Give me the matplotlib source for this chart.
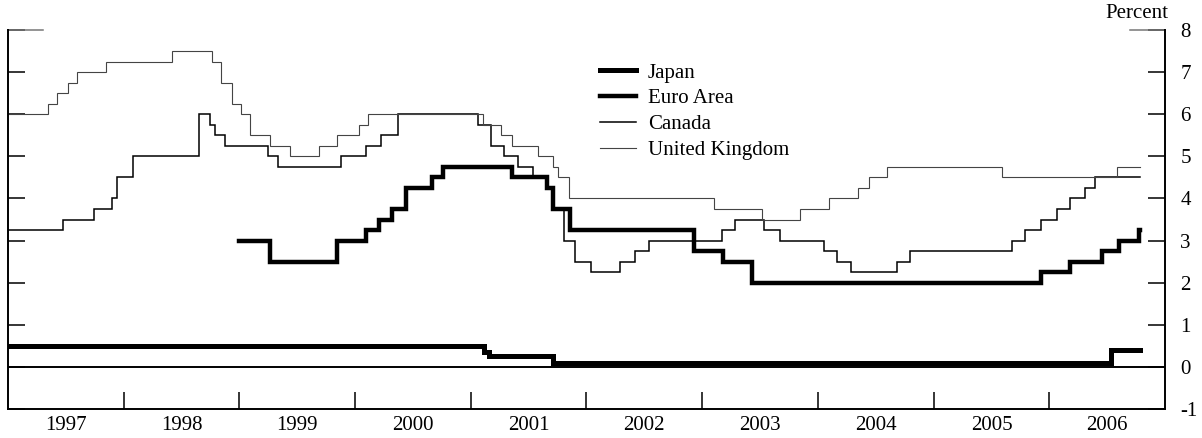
import numpy as np
import pandas as pd
import matplotlib

matplotlib.use('Agg')
import matplotlib.pyplot as plt

# policy rate changes (date the rate took effect, new rate in percent)
japan_dates = ['1997-01-01', '2001-02-13', '2001-03-01', '2001-09-19', '2006-07-14']
japan_rates = [0.50, 0.35, 0.25, 0.10, 0.40]

euro_dates = ['1999-01-01', '1999-04-09', '1999-11-05', '2000-02-04', '2000-03-17',
              '2000-04-28', '2000-06-09', '2000-09-01', '2000-10-06', '2001-05-11',
              '2001-08-31', '2001-09-18', '2001-11-09', '2002-12-06', '2003-03-07',
              '2003-06-06', '2005-12-06', '2006-03-08', '2006-06-15', '2006-08-09',
              '2006-10-11']
euro_rates = [3.0, 2.5, 3.0, 3.25, 3.5, 3.75, 4.25, 4.5, 4.75, 4.5, 4.25, 3.75, 3.25,
              2.75, 2.5, 2.0, 2.25, 2.5, 2.75, 3.0, 3.25]

canada_dates = ['1997-01-01', '1997-06-25', '1997-10-01', '1997-11-25', '1997-12-12',
                '1998-01-30', '1998-08-27', '1998-09-29', '1998-10-16', '1998-11-17',
                '1999-03-31', '1999-05-04', '1999-11-17', '2000-02-03', '2000-03-22',
                '2000-05-17', '2001-01-23', '2001-03-06', '2001-04-17', '2001-05-29',
                '2001-07-17', '2001-08-28', '2001-09-17', '2001-10-23', '2001-11-27',
                '2002-01-15', '2002-04-16', '2002-06-04', '2002-07-16', '2003-03-04',
                '2003-04-15', '2003-07-15', '2003-09-03', '2004-01-20', '2004-03-02',
                '2004-04-13', '2004-09-08', '2004-10-19', '2005-09-07', '2005-10-18',
                '2005-12-06', '2006-01-24', '2006-03-07', '2006-04-25', '2006-05-24']
canada_rates = [3.25, 3.5, 3.75, 4.0, 4.5, 5.0, 6.0, 5.75, 5.5, 5.25, 5.0, 4.75, 5.0,
                5.25, 5.5, 6.0, 5.75, 5.25, 5.0, 4.75, 4.5, 4.25, 3.75, 3.0, 2.5, 2.25,
                2.5, 2.75, 3.0, 3.25, 3.5, 3.25, 3.0, 2.75, 2.5, 2.25, 2.5, 2.75, 3.0,
                3.25, 3.5, 3.75, 4.0, 4.25, 4.5]

uk_dates = ['1997-01-01', '1997-05-06', '1997-06-06', '1997-07-10', '1997-08-07',
            '1997-11-06', '1998-06-04', '1998-10-08', '1998-11-05', '1998-12-10',
            '1999-01-07', '1999-02-04', '1999-04-08', '1999-06-10', '1999-09-08',
            '1999-11-04', '2000-01-13', '2000-02-10', '2001-02-08', '2001-04-05',
            '2001-05-10', '2001-08-02', '2001-09-18', '2001-10-04', '2001-11-08',
            '2003-02-06', '2003-07-10', '2003-11-06', '2004-02-05', '2004-05-06',
            '2004-06-10', '2004-08-05', '2005-08-04', '2006-08-03']
uk_rates = [6.0, 6.25, 6.5, 6.75, 7.0, 7.25, 7.5, 7.25, 6.75, 6.25, 6.0, 5.5, 5.25,
            5.0, 5.25, 5.5, 5.75, 6.0, 5.75, 5.5, 5.25, 5.0, 4.75, 4.5, 4.0, 3.75,
            3.5, 3.75, 4.0, 4.25, 4.5, 4.75, 4.5, 4.75]

end_date = '2006-10-13'
years = list(range(1997, 2007))


def to_year(dates):
    d = pd.to_datetime(dates)
    return d.year + (d.dayofyear - 1) / 365.25


def step_series(dates, rates):
    x = np.append(to_year(dates), to_year([end_date]))
    y = np.append(rates, rates[-1])
    return x, y


plt.rcParams['font.family'] = ['Liberation Serif', 'DejaVu Serif']
plt.rcParams['font.size'] = 15
plt.rcParams['axes.unicode_minus'] = False

fig = plt.figure(figsize=(12.02, 4.38), dpi=100)
ax = fig.add_axes([8 / 1202, 1 - 409 / 438, 1157 / 1202, 379 / 438])

series = [
    ('Japan', japan_dates, japan_rates, 'black', 3.6),
    ('Euro Area', euro_dates, euro_rates, 'black', 3.2),
    ('Canada', canada_dates, canada_rates, 'black', 1.1),
    ('United Kingdom', uk_dates, uk_rates, '#444444', 0.8),
]
for name, d, r, c, lw in series:
    x, y = step_series(d, r)
    ax.plot(x, y, drawstyle='steps-post', color=c, lw=lw, label=name,
            solid_joinstyle='miter')

ax.axhline(0, color='black', lw=1.4)

ax.set_xlim(1997, 2007)
ax.set_ylim(-1, 8)

ax.spines['top'].set_visible(False)
for s in ['left', 'right', 'bottom']:
    ax.spines[s].set_linewidth(1.4)

ax.set_xticks(years[1:])
ax.set_xticklabels([])
ax.set_xticks([yr + 0.5 for yr in years], minor=True)
ax.set_xticklabels([str(yr) for yr in years], minor=True)
ax.tick_params(axis='x', which='major', direction='in', length=12, width=1.1)
ax.tick_params(axis='x', which='minor', length=0, pad=5)

ax.set_yticks(range(-1, 9))
ax.yaxis.set_ticks_position('both')
ax.tick_params(axis='y', direction='in', length=12, width=1.1,
               labelleft=False, labelright=True, pad=11)

# longer marks at the top of both side axes
ax.plot([0, 0.03], [1, 1], transform=ax.transAxes, color='#777777', lw=1.1, clip_on=False)
ax.plot([0.97, 1], [1, 1], transform=ax.transAxes, color='#777777', lw=1.1, clip_on=False)

fig.text(1168 / 1202, 1 - 14 / 438, 'Percent', ha='right', va='center')

ax.legend(loc='upper left', bbox_to_anchor=(600 / 1202, 1 - 63 / 438),
          bbox_transform=fig.transFigure, frameon=False, handlelength=1.75,
          handletextpad=0.55, labelspacing=0.3, borderpad=0, borderaxespad=0)

fig.savefig('out.png', dpi=100)
